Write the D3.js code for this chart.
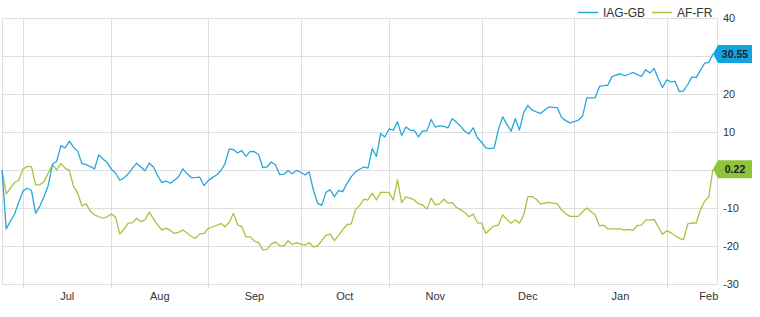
<!DOCTYPE html>
<meta charset="utf-8">
<style>
body { margin: 0; background: #fff; }
svg { display: block; font-family: Arial, "Liberation Sans", sans-serif; }
.grid line { stroke: #dedede; shape-rendering: crispEdges; }
.ylab, .xlab { font-size: 11px; fill: #333; }
.legend text { font-size: 12px; fill: #333; }
</style>
<svg width="760" height="317"></svg>
<script src="https://cdn.jsdelivr.net/npm/d3@7"></script>
<script>

// trading days (weekdays) from first to last
var firstDay = "2016-06-24", lastDay = "2017-02-16";
var seriesNames = ["IAG-GB", "AF-FR"];
var seriesColors = ["#27a6db", "#a2c540"];
var boxColors = ["#13a3e2", "#8cc43a"];
var yTicks = [40, 30, 20, 10, 0, -10, -20, -30];

// % change
var iag = [
  0, -15.5, -13.5, -11.5, -8.5, -5.5, -4.8, -5.4, -11.4, -9.5,
  -7, -4, 1.5, 2.3, 6.4, 5.8, 7.6, 6.0, 4.9, 1.7,
  1.4, 0.9, 0.3, 4.0, 2.9, 2.0, 0.2, -0.8, -2.7, -2.1,
  -1.0, 0.5, 1.8, 0.8, -0.2, 1.8, 0.8, -1.5, -3.3, -2.9,
  -3.5, -2.7, -1.7, 0.3, -1.0, -2.0, -2.0, -1.9, -4.1, -2.8,
  -2.0, -1.3, -0.2, 1.6, 5.5, 5.4, 4.5, 5.1, 3.6, 4.9,
  4.8, 4.0, 0.6, 0.8, 2.1, 1.4, -1.2, -1.1, -0.2, -1.0,
  -0.1, -0.6, -1.3, -0.5, -5.2, -8.7, -9.3, -5.9, -5.2, -7.0,
  -5.4, -5.7, -3.5, -1.8, -0.5, 0.2, 0.8, 0.5, 5.6, 3.6,
  9.6, 8.7, 10.8, 10.5, 12.7, 9.1, 11.3, 10.5, 10.4, 8.7,
  10.3, 10.3, 13.3, 11.3, 11.6, 11.5, 11.1, 13.5, 12.6, 11.5,
  10.2, 9.5, 11.1, 8.5, 7.3, 5.8, 5.6, 5.8, 10.7, 14.0,
  12.0, 10.2, 13.5, 10.5, 15.1, 17.0, 15.8, 15.3, 14.9, 15.8,
  16.6, 16.5, 16.4, 13.8, 13.0, 12.4, 12.7, 13.1, 14.2, 19.0,
  19.0, 19.0, 22.0, 22.2, 22.3, 24.6, 25.0, 25.3, 24.8, 25.2,
  25.7, 25.1, 24.6, 26.4, 25.5, 26.7, 24.0, 21.7, 23.7, 23.2,
  23.3, 20.6, 20.8, 22.5, 24.5, 24.3, 26.2, 28.1, 28.3, 30.55
];
var af = [
  0, -6.3, -4.8, -3.3, -2.7, 0.3, 0.9, 0.9, -3.9, -3.9,
  -3.0, -0.8, 1.4, 0, 1.7, 0.5, -0.1, -4.3, -6.1, -9.4,
  -8.9, -10.9, -11.8, -12.3, -12.7, -12.3, -11.6, -12.4, -16.8, -15.6,
  -14.0, -13.9, -12.7, -13.6, -13.1, -11.1, -12.8, -14.5, -15.8, -15.3,
  -15.9, -16.7, -16.4, -15.8, -16.6, -17.5, -18.0, -16.8, -16.7, -15.4,
  -15.0, -14.6, -14.1, -14.9, -13.8, -11.4, -14.4, -14.9, -17.6, -17.6,
  -18.7, -19.1, -21.0, -20.9, -19.5, -18.9, -19.9, -20.0, -18.6, -19.6,
  -19.1, -19.5, -19.8, -19.1, -20.2, -20.0, -18.6, -17.2, -16.9, -18.6,
  -17.2, -15.7, -14.4, -14.2, -10.5, -9.4, -7.7, -7.9, -6.1, -7.9,
  -5.9, -5.9, -5.9, -7.9, -2.6, -8.6, -7.1, -7.4, -7.9, -8.9,
  -9.2, -10.3, -7.4, -9.2, -8.9, -7.7, -8.7, -8.6, -9.8, -10.5,
  -11.2, -12.3, -11.6, -13.9, -14.0, -16.7, -15.6, -14.7, -14.5, -11.8,
  -13.0, -14.0, -13.1, -14.0, -11.8, -7.0, -7.0, -7.7, -9.0, -8.7,
  -8.5, -8.7, -8.9, -10.5, -11.5, -12.2, -12.2, -12.2, -11.0, -10.0,
  -11.0, -11.8, -14.7, -14.5, -15.5, -15.5, -15.5, -15.5, -15.8, -15.6,
  -15.9, -14.6, -14.5, -13.2, -13.2, -13.0, -15.0, -16.9, -16.0, -16.5,
  -17.3, -18.0, -18.3, -14.2, -13.9, -14.0, -10.5, -8.3, -7.0, 0.22
];

var svg = d3.select("svg");
var plotLeft = 2, plotEnd = 713, plotRight = 717, plotTop = 18, plotBottom = 284;

var parse = d3.utcParse("%Y-%m-%d");
var isWeekday = function(d) { return d.getUTCDay() % 6 !== 0; };
var days = d3.utcDay.range(parse(firstDay), d3.utcDay.offset(parse(lastDay), 1)).filter(isWeekday);

var x = d3.scaleLinear().domain([0, days.length - 1]).range([plotLeft, plotEnd]);
var y = d3.scaleLinear().domain([-30, 40]).range([plotBottom, plotTop]);

// month starts (index of first trading day) and mid-month label spots
var months = [];
days.forEach(function(d, i) {
  if (i > 0 && d.getUTCMonth() !== days[i - 1].getUTCMonth()) {
    var m0 = d3.utcMonth.floor(d);
    var n = d3.utcDay.range(m0, d3.utcMonth.offset(m0, 1)).filter(isWeekday).length;
    months.push({ i: i, mid: i + n / 2, label: d3.utcFormat("%b")(d) });
  }
});

var lastVals = [iag[iag.length - 1], af[af.length - 1]];

var grid = svg.append("g").attr("class", "grid");

grid.selectAll(".h")
  .data(yTicks)
  .enter().append("line")
    .attr("x1", plotLeft).attr("x2", plotRight)
    .attr("y1", function(d) { return Math.round(y(d)) + 0.5; })
    .attr("y2", function(d) { return Math.round(y(d)) + 0.5; });

grid.selectAll(".v")
  .data(months)
  .enter().append("line")
    .attr("x1", function(d) { return Math.round(x(d.i)) + 0.5; })
    .attr("x2", function(d) { return Math.round(x(d.i)) + 0.5; })
    .attr("y1", plotTop).attr("y2", plotBottom + 4);

grid.append("line").attr("x1", plotLeft + 0.5).attr("x2", plotLeft + 0.5).attr("y1", plotTop).attr("y2", plotBottom);
grid.append("line").attr("x1", plotRight + 0.5).attr("x2", plotRight + 0.5).attr("y1", plotTop).attr("y2", plotBottom);

svg.append("g").selectAll("text")
  .data(months)
  .enter().append("text")
    .attr("class", "xlab")
    .attr("x", function(d) { return x(d.mid); })
    .attr("y", 300)
    .attr("text-anchor", "middle")
    .text(function(d) { return d.label; });

// y labels, the ones sitting under a value flag are hidden by it
svg.append("g").selectAll("text")
  .data(yTicks.filter(function(t) {
    return lastVals.every(function(v) { return Math.abs(y(t) - y(v)) > 10; });
  }))
  .enter().append("text")
    .attr("class", "ylab")
    .attr("x", 723)
    .attr("y", function(d) { return y(d); })
    .attr("dy", "0.35em")
    .text(function(d) { return d; });

var line = d3.line()
  .x(function(d, i) { return x(i); })
  .y(function(d) { return y(d); });

[af, iag].forEach(function(s) {
  var k = s === iag ? 0 : 1;
  svg.append("path")
    .datum(s)
    .attr("fill", "none")
    .attr("stroke", seriesColors[k])
    .attr("stroke-width", 1.3)
    .attr("stroke-linejoin", "round")
    .attr("d", line);
});

// last value flags
var fmt = d3.format(".2f");
lastVals.forEach(function(v, k) {
  var yy = y(v), x0 = plotEnd;
  var g = svg.append("g");
  g.append("path")
    .attr("fill", boxColors[k])
    .attr("d", "M" + x0 + "," + yy + "L" + (x0 + 5) + "," + (yy - 9) + "H752V" + (yy + 9) + "H" + (x0 + 5) + "Z");
  g.append("text")
    .attr("x", 735)
    .attr("y", yy)
    .attr("dy", "0.35em")
    .attr("text-anchor", "middle")
    .attr("font-size", 10.5)
    .attr("font-weight", "bold")
    .attr("fill", "#222")
    .text(fmt(v));
});

// legend
var legend = svg.append("g").attr("class", "legend");
var lx = [578, 652];
seriesNames.forEach(function(name, k) {
  legend.append("line")
    .attr("x1", lx[k]).attr("x2", lx[k] + 20)
    .attr("y1", 12.5).attr("y2", 12.5)
    .attr("stroke", seriesColors[k]).attr("stroke-width", 1.5);
  legend.append("text")
    .attr("x", lx[k] + 25).attr("y", 17)
    .text(name);
});

</script>
